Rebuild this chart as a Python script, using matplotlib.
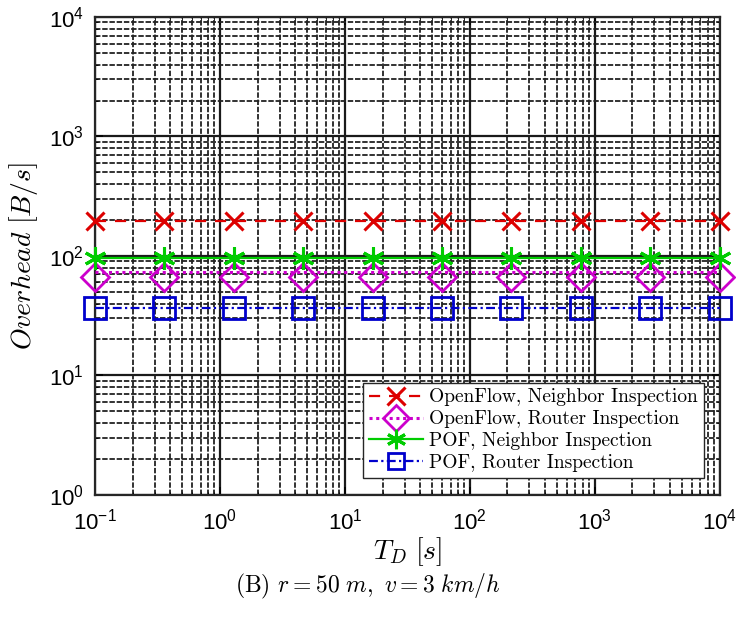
import matplotlib
matplotlib.use("Agg")
import matplotlib.pyplot as plt
from matplotlib.font_manager import FontProperties
import numpy as np

plt.rcParams['font.family'] = 'Liberation Sans'
plt.rcParams['mathtext.fontset'] = 'custom'
plt.rcParams['mathtext.rm'] = 'Liberation Sans'
plt.rcParams['mathtext.it'] = 'Liberation Sans:italic'

# sample points of T_D (s)
td = [0.1, 0.359, 1.29, 4.64, 16.7, 59.9, 215, 774, 2783, 10000]

# overhead (B/s)
of_neighbor = [197] * 10
of_router = [74] * 10
of_router_mk = [66.5] * 10   # diamonds sit a bit under the dotted line
pof_neighbor = [95.7] * 10
pof_router = [36.5] * 10

labels = ['OpenFlow, Neighbor Inspection',
          'OpenFlow, Router Inspection',
          'POF, Neighbor Inspection',
          'POF, Router Inspection']

xticks = [0.1, 1, 10, 100, 1000, 10000]
xticklabels = [r'$10^{-1}$', r'$10^{0}$', r'$10^{1}$', r'$10^{2}$', r'$10^{3}$', r'$10^{4}$']
yticks = [1, 10, 100, 1000, 10000]
yticklabels = [r'$10^{0}$', r'$10^{1}$', r'$10^{2}$', r'$10^{3}$', r'$10^{4}$']

red = '#dd0000'
mag = '#cc00cc'
grn = '#00cc00'
blu = '#0000cc'

fig = plt.figure(figsize=(7.36, 6.21), dpi=100)
ax = fig.add_axes([0.129, 0.203, 0.849, 0.7696])
ax.set_xscale('log')
ax.set_yscale('log')

lw = 1.6
ax.plot(td, of_neighbor, color=red, ls=(0, (5, 4)), lw=lw, zorder=5)
ax.plot(td, of_neighbor, color=red, ls='none', marker='x', ms=13, mew=2.2, zorder=6, clip_on=False)
ax.plot(td, of_router, color=mag, ls=(0, (1, 1.2)), lw=2.2, zorder=5)
ax.plot(td, of_router_mk, color=mag, ls='none', marker='D', ms=14, mfc='none', mew=2, zorder=6, clip_on=False)
ax.plot(td, pof_neighbor, color=grn, ls='-', lw=lw, zorder=5)
ax.plot(td, pof_neighbor, color=grn, ls='none', marker=(6, 2, 0), ms=16, mew=2.2, zorder=6, clip_on=False)
ax.plot(td, pof_router, color=blu, ls=(0, (4, 1.5, 1, 1.5)), lw=lw, zorder=5)
ax.plot(td, pof_router, color=blu, ls='none', marker='s', ms=16, mfc='none', mew=2, zorder=6, clip_on=False)

# legend handles
h1, = ax.plot([], [], color=red, ls=(0, (5, 4)), lw=lw, marker='x', ms=13, mew=2.2)
h2, = ax.plot([], [], color=mag, ls=(0, (1, 1.2)), lw=2.2, marker='D', ms=13, mfc='none', mew=2)
h3, = ax.plot([], [], color=grn, ls='-', lw=lw, marker=(6, 2, 0), ms=14, mew=2.2)
h4, = ax.plot([], [], color=blu, ls=(0, (4, 1.5, 1, 1.5)), lw=lw, marker='s', ms=12, mfc='none', mew=2)

ax.set_xlim(0.1, 10000)
ax.set_ylim(1, 10000)
ax.set_xticks(xticks)
ax.set_xticklabels(xticklabels, fontsize=16)
ax.set_yticks(yticks)
ax.set_yticklabels(yticklabels, fontsize=16)

ax.grid(True, which='major', color='#1a1a1a', lw=1.6, ls='-')
ax.grid(True, which='minor', color='#222222', lw=1.3, ls=(0, (3, 1)))
ax.tick_params(which='both', direction='in', top=True, right=True)
ax.tick_params(which='major', length=6, width=1.2)
ax.tick_params(axis='x', which='major', pad=10)
ax.tick_params(axis='y', which='major', pad=8)
for s in ax.spines.values():
    s.set_linewidth(1.6)
    s.set_color('#262626')

ax.set_xlabel(r'$T_D\ [s]$', fontsize=20, math_fontfamily='cm', labelpad=0)
ax.set_ylabel(r'$Overhead\ [B/s]$', fontsize=20, math_fontfamily='cm', labelpad=6)

leg = ax.legend([h1, h2, h3, h4], labels, loc='lower right', bbox_to_anchor=(0.974, 0.0356),
                borderaxespad=0, prop=FontProperties(family='cmr10', size=14),
                handlelength=2.8, handletextpad=0.3, labelspacing=0.2, borderpad=0.3,
                fancybox=False, framealpha=1, edgecolor='#262626')
leg.get_frame().set_linewidth(1.0)
leg.set_zorder(10)

fig.text(0.5, 0.056, r'(B) $r = 50\ m,\ v = 3\ km/h$', ha='center', va='center',
         fontsize=17, family='cmr10', math_fontfamily='cm')

fig.savefig('out.png', dpi=100)
